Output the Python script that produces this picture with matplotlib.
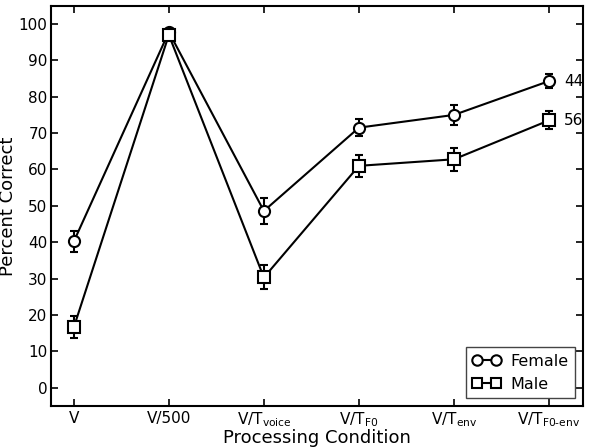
import numpy as np
import matplotlib.pyplot as plt
from matplotlib.lines import Line2D

conditions = ['V', 'V/500', r'V/T$_{\mathregular{voice}}$', r'V/T$_{\mathregular{F0}}$',
              r'V/T$_{\mathregular{env}}$', r'V/T$_{\mathregular{F0\text{-}env}}$']
female = [40.2, 97.8, 48.6, 71.5, 75.0, 84.3]
female_err = [3.0, 0.6, 3.5, 2.3, 2.8, 2.0]
male = [16.6, 97.0, 30.3, 61.0, 62.8, 73.5]
male_err = [3.0, 1.0, 3.3, 3.0, 3.2, 2.5]
end_labels = ['44', '56']

x = np.arange(len(conditions))

fig = plt.figure(figsize=(6, 4.47), dpi=100)
ax = fig.add_axes([0.085, 0.092, 0.887, 0.895])

ax.errorbar(x, female, yerr=female_err, color='black', lw=1.5, marker='o', ms=8,
            mfc='white', mec='black', mew=1.5, capsize=3, elinewidth=1.5, capthick=1.5)
ax.errorbar(x, male, yerr=male_err, color='black', lw=1.5, marker='s', ms=8,
            mfc='white', mec='black', mew=1.5, capsize=3, elinewidth=1.5, capthick=1.5)

ax.text(x[-1] + 0.16, female[-1], end_labels[0], fontsize=11, va='center')
ax.text(x[-1] + 0.16, male[-1], end_labels[1], fontsize=11, va='center')

ax.set_xlim(-0.24, 5.36)
ax.set_ylim(-5, 105)
ax.set_xticks(x)
ax.set_xticklabels(conditions, fontsize=11)
ax.set_yticks(np.arange(0, 101, 10))
ax.tick_params(axis='y', labelsize=11, pad=2.5)
ax.tick_params(direction='in', top=True, right=True, length=5, width=1.2)
for s in ax.spines.values():
    s.set_linewidth(1.5)

ax.set_xlabel('Processing Condition', fontsize=13, labelpad=0)
ax.set_ylabel('Percent Correct', fontsize=13)
ax.yaxis.set_label_coords(-0.063, 0.5)

# legend: two markers joined by a line, no error bars
handles = [Line2D([0], [0], color='black', lw=1.5, marker='o', ms=7.5, mfc='white', mew=1.5),
           Line2D([0], [0], color='black', lw=1.5, marker='s', ms=7.5, mfc='white', mew=1.5)]
leg = ax.legend(handles, ['Female', 'Male'], loc='lower right', fontsize=11.5,
                handlelength=1.8, numpoints=2, fancybox=False, edgecolor='#444444',
                framealpha=1, borderaxespad=0.5, handletextpad=0.6)
leg.get_frame().set_linewidth(1.0)

fig.savefig('out.png', dpi=100)
